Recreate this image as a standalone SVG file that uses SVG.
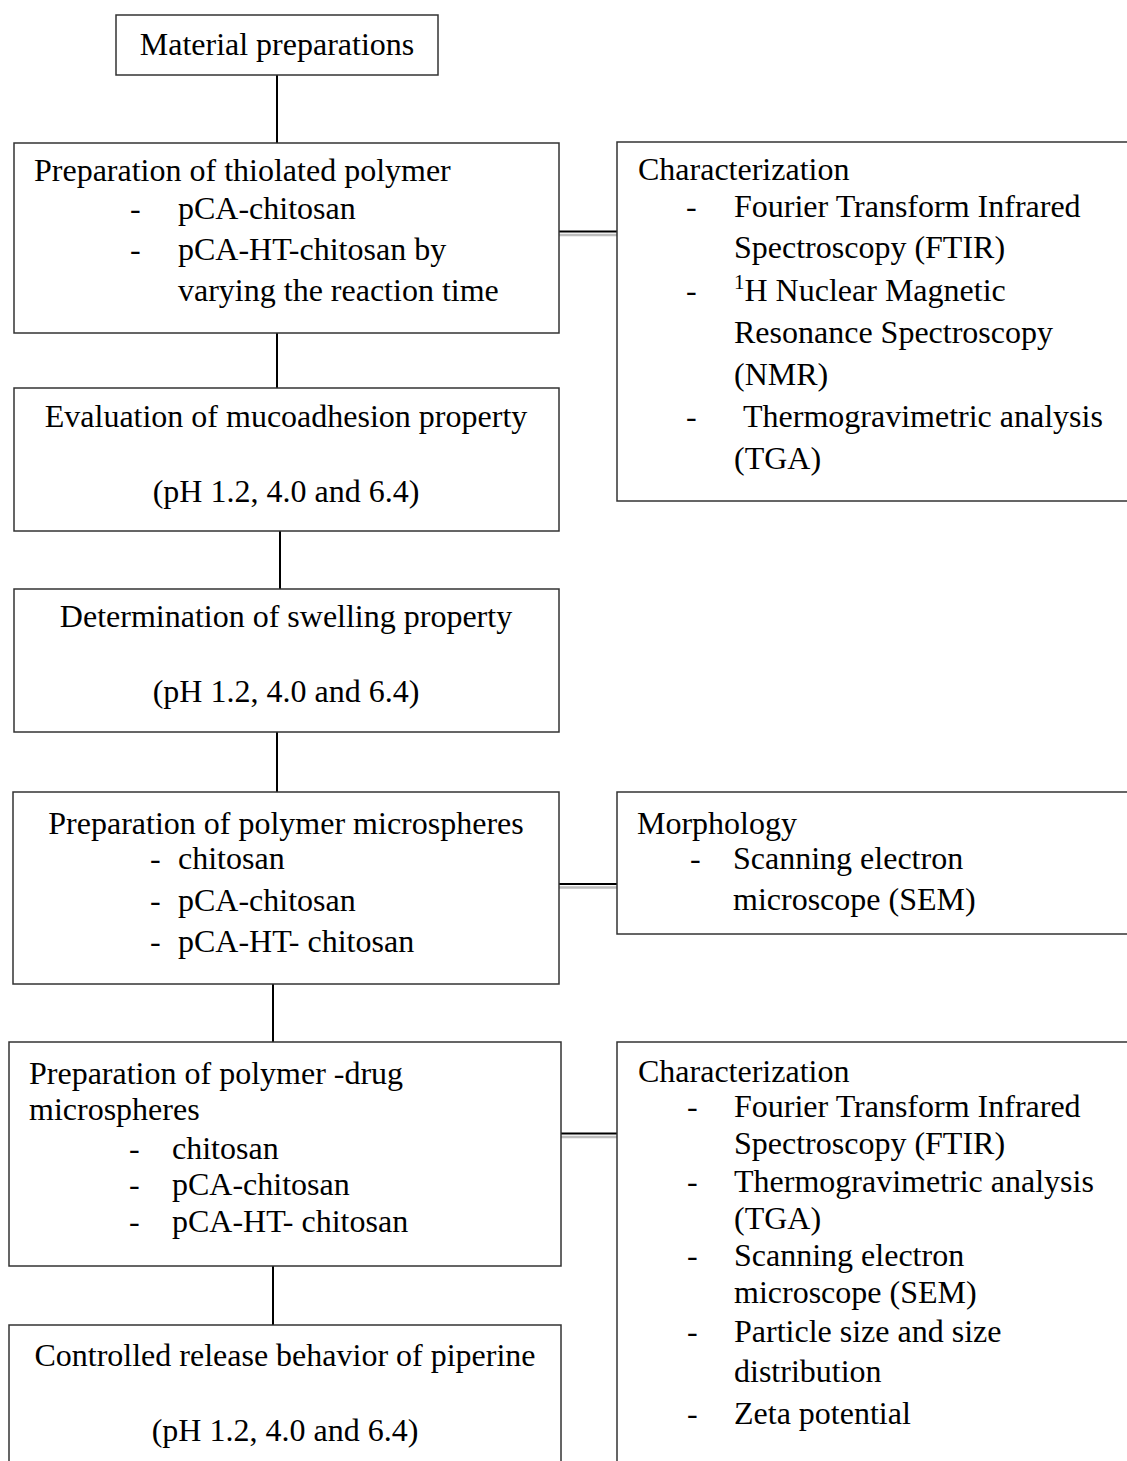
<svg xmlns="http://www.w3.org/2000/svg" width="1127" height="1461" viewBox="0 0 1127 1461">
<style>
  .box { fill: #ffffff; stroke: #333333; stroke-width: 1.5; }
  .t { font-family: "Liberation Serif", "Times New Roman", serif; font-size: 32px; fill: #000000; }
  .c { text-anchor: middle; }
  .sup { font-size: 21px; }
  .v { stroke: #000000; stroke-width: 2; fill: none; }
  .dk { stroke: #000000; stroke-width: 2; fill: none; }
  .lt { stroke: #bdbdbd; stroke-width: 2.5; fill: none; }
</style>
<rect x="0" y="0" width="1127" height="1461" fill="#ffffff"/>

<g id="connectors">
  <line class="v" x1="277" y1="75" x2="277" y2="143"/>
  <line class="v" x1="277" y1="333" x2="277" y2="388"/>
  <line class="v" x1="280" y1="531" x2="280" y2="589"/>
  <line class="v" x1="277" y1="732" x2="277" y2="792"/>
  <line class="v" x1="273" y1="984" x2="273" y2="1042"/>
  <line class="v" x1="273" y1="1266" x2="273" y2="1325"/>
  <line class="dk" x1="559" y1="231.5" x2="617" y2="231.5"/>
  <line class="lt" x1="559" y1="235" x2="617" y2="235"/>
  <line class="dk" x1="559" y1="884" x2="617" y2="884"/>
  <line class="lt" x1="559" y1="887.5" x2="617" y2="887.5"/>
  <line class="dk" x1="561" y1="1133.5" x2="617" y2="1133.5"/>
  <line class="lt" x1="561" y1="1137" x2="617" y2="1137"/>
</g>

<g id="material">
  <rect class="box" x="116" y="15" width="322" height="60"/>
  <text class="t c" x="277" y="55">Material preparations</text>
</g>

<g id="thiolated">
  <rect class="box" x="14" y="143" width="545" height="190"/>
  <text class="t" x="34" y="181">Preparation of thiolated polymer</text>
  <text class="t" x="130" y="219">-</text>
  <text class="t" x="178" y="219">pCA-chitosan</text>
  <text class="t" x="130" y="260">-</text>
  <text class="t" x="178" y="260">pCA-HT-chitosan by</text>
  <text class="t" x="178" y="301">varying the reaction time</text>
</g>

<g id="char1">
  <rect class="box" x="617" y="142" width="530" height="359"/>
  <text class="t" x="638" y="180">Characterization</text>
  <text class="t" x="686" y="217">-</text>
  <text class="t" x="734" y="217">Fourier Transform Infrared</text>
  <text class="t" x="734" y="258">Spectroscopy (FTIR)</text>
  <text class="t" x="686" y="301">-</text>
  <text class="t" x="734" y="301"><tspan class="sup" dy="-12">1</tspan><tspan dy="12">H Nuclear Magnetic</tspan></text>
  <text class="t" x="734" y="343">Resonance Spectroscopy</text>
  <text class="t" x="734" y="385">(NMR)</text>
  <text class="t" x="686" y="427">-</text>
  <text class="t" x="743" y="427">Thermogravimetric analysis</text>
  <text class="t" x="734" y="469">(TGA)</text>
</g>

<g id="mucoadhesion">
  <rect class="box" x="14" y="388" width="545" height="143"/>
  <text class="t c" x="286" y="427">Evaluation of mucoadhesion property</text>
  <text class="t c" x="286" y="502">(pH 1.2, 4.0 and 6.4)</text>
</g>

<g id="swelling">
  <rect class="box" x="14" y="589" width="545" height="143"/>
  <text class="t c" x="286" y="627">Determination of swelling property</text>
  <text class="t c" x="286" y="702">(pH 1.2, 4.0 and 6.4)</text>
</g>

<g id="microspheres">
  <rect class="box" x="13" y="792" width="546" height="192"/>
  <text class="t c" x="286" y="834">Preparation of polymer microspheres</text>
  <text class="t" x="150" y="869">-</text>
  <text class="t" x="178" y="869">chitosan</text>
  <text class="t" x="150" y="911">-</text>
  <text class="t" x="178" y="911">pCA-chitosan</text>
  <text class="t" x="150" y="952">-</text>
  <text class="t" x="178" y="952">pCA-HT- chitosan</text>
</g>

<g id="morphology">
  <rect class="box" x="617" y="792" width="530" height="142"/>
  <text class="t" x="637" y="834">Morphology</text>
  <text class="t" x="690" y="869">-</text>
  <text class="t" x="733" y="869">Scanning electron</text>
  <text class="t" x="733" y="910">microscope (SEM)</text>
</g>

<g id="drug-microspheres">
  <rect class="box" x="9" y="1042" width="552" height="224"/>
  <text class="t" x="29" y="1084">Preparation of polymer -drug</text>
  <text class="t" x="29" y="1120">microspheres</text>
  <text class="t" x="129" y="1159">-</text>
  <text class="t" x="172" y="1159">chitosan</text>
  <text class="t" x="129" y="1195">-</text>
  <text class="t" x="172" y="1195">pCA-chitosan</text>
  <text class="t" x="129" y="1232">-</text>
  <text class="t" x="172" y="1232">pCA-HT- chitosan</text>
</g>

<g id="char2">
  <rect class="box" x="617" y="1042" width="530" height="460"/>
  <text class="t" x="638" y="1082">Characterization</text>
  <text class="t" x="687" y="1117">-</text>
  <text class="t" x="734" y="1117">Fourier Transform Infrared</text>
  <text class="t" x="734" y="1154">Spectroscopy (FTIR)</text>
  <text class="t" x="687" y="1192">-</text>
  <text class="t" x="734" y="1192">Thermogravimetric analysis</text>
  <text class="t" x="734" y="1229">(TGA)</text>
  <text class="t" x="687" y="1266">-</text>
  <text class="t" x="734" y="1266">Scanning electron</text>
  <text class="t" x="734" y="1303">microscope (SEM)</text>
  <text class="t" x="687" y="1342">-</text>
  <text class="t" x="734" y="1342">Particle size and size</text>
  <text class="t" x="734" y="1382">distribution</text>
  <text class="t" x="687" y="1424">-</text>
  <text class="t" x="734" y="1424">Zeta potential</text>
</g>

<g id="release">
  <rect class="box" x="9" y="1325" width="552" height="200"/>
  <text class="t c" x="285" y="1366">Controlled release behavior of piperine</text>
  <text class="t c" x="285" y="1441">(pH 1.2, 4.0 and 6.4)</text>
</g>
</svg>
